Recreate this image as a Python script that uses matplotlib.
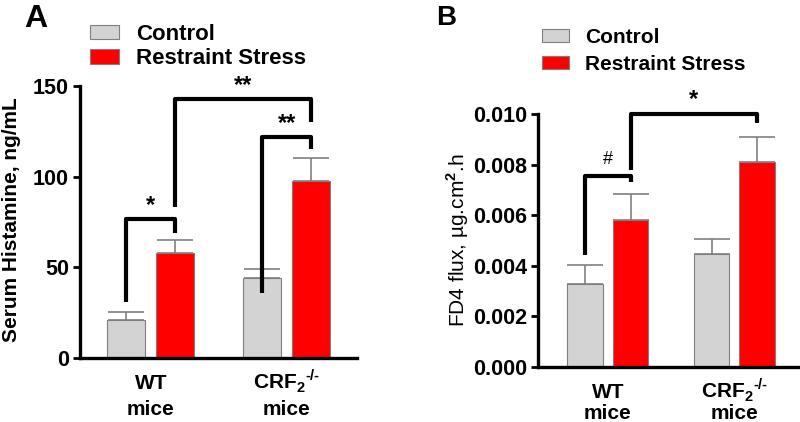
import numpy as np
import matplotlib
matplotlib.use('Agg')
import matplotlib.pyplot as plt

plt.rcParams['font.family'] = ['Liberation Sans', 'DejaVu Sans']
plt.rcParams['font.weight'] = 'bold'
plt.rcParams['mathtext.fontset'] = 'custom'
plt.rcParams['mathtext.rm'] = 'Liberation Sans'
plt.rcParams['mathtext.bf'] = 'Liberation Sans:bold'

# data
group_top = ['WT', 'CRF$_\\mathbf{2}$$^{\\text{-/-}}$']
group_bottom = ['mice', 'mice']
series = ['Control', 'Restraint Stress']

hist_ctrl = [21, 44]
hist_ctrl_err = [4.5, 5]
hist_rs = [58, 97.5]
hist_rs_err = [7, 13]

fd4_ctrl = [0.00328, 0.00447]
fd4_ctrl_err = [0.00075, 0.00059]
fd4_rs = [0.00581, 0.0081]
fd4_rs_err = [0.00103, 0.0010]

# significance brackets: (bar left, bar right, left foot, top, right foot, label)
# bars numbered 0=WT ctrl, 1=WT RS, 2=CRF ctrl, 3=CRF RS
hist_sig = [(0, 1, 31, 76.5, 69, '*'),
            (1, 3, 83, 143, 130, '**'),
            (2, 3, 36, 122, 115, '**')]
fd4_sig = [(0, 1, 0.00443, 0.00755, 0.0073, '#'),
           (1, 3, 0.0078, 0.0100, 0.00964, '*')]

colors = ['#d3d3d3', '#ff0000']
off = 0.18
width = 0.28
PX = 0.72  # points per pixel at dpi 100


def panel(ax, ctrl, ctrl_err, rs, rs_err, sig, ylim, yticks, fmt, ylabel, ylab_weight, ylab_fs,
          tick_fs, star_y_off, base1, base2):
    x = np.arange(len(group_top))
    for vals, errs, dx, c, lab in [(ctrl, ctrl_err, -off, colors[0], series[0]),
                                   (rs, rs_err, off, colors[1], series[1])]:
        ax.bar(x + dx, vals, width, color=c, edgecolor='#7f7f7f', linewidth=0.8, label=lab, zorder=2)
        ax.errorbar(x + dx, vals, yerr=[np.zeros(len(vals)), errs], fmt='none',
                    ecolor='#808080', elinewidth=1.2, capsize=13, capthick=1.2, zorder=1)
    centers = [x[0] - off, x[0] + off, x[1] - off, x[1] + off]
    for i, j, yl, yt, yr, lab in sig:
        ax.plot([centers[i], centers[i], centers[j], centers[j]], [yl, yt, yt, yr],
                color='black', lw=3.0, solid_joinstyle='round', solid_capstyle='butt',
                clip_on=False, zorder=3)
        if lab == '#':
            ax.text((centers[i] + centers[j]) / 2, yt + star_y_off, lab, ha='center', va='bottom',
                    fontsize=13, fontweight='normal')
        else:
            ax.text((centers[i] + centers[j]) / 2, yt + star_y_off * 0.4, lab, ha='center', va='bottom',
                    fontsize=17, fontweight='bold')
    ax.set_ylim(*ylim)
    ax.set_yticks(yticks)
    ax.set_yticklabels([fmt.format(v) for v in yticks], fontsize=tick_fs, fontweight='bold')
    ax.set_xticks(x)
    ax.set_xticklabels([])
    ax.tick_params(axis='x', length=0)
    ax.tick_params(axis='y', length=5, width=2, pad=3)
    for k in range(len(x)):
        ax.annotate(group_top[k], xy=(x[k], 0), xycoords=('data', 'axes fraction'),
                    xytext=(0, -base1 * PX), textcoords='offset points',
                    ha='center', va='baseline', fontsize=15, fontweight='bold', annotation_clip=False)
        ax.annotate(group_bottom[k], xy=(x[k], 0), xycoords=('data', 'axes fraction'),
                    xytext=(0, -base2 * PX), textcoords='offset points',
                    ha='center', va='baseline', fontsize=15, fontweight='bold', annotation_clip=False)
    for s in ['top', 'right']:
        ax.spines[s].set_visible(False)
    for s in ['left', 'bottom']:
        ax.spines[s].set_linewidth(2.4)
    ax.set_ylabel(ylabel, fontsize=ylab_fs, fontweight=ylab_weight)


fig = plt.figure(figsize=(8, 4.22), dpi=100)

axA = fig.add_axes([0.1, 0.1517, 0.346, 0.6445])
panel(axA, hist_ctrl, hist_ctrl_err, hist_rs, hist_rs_err, hist_sig,
      (0, 150), [0, 50, 100, 150], '{:.0f}', 'Serum Histamine, ng/mL', 'bold', 15, 15.5, 3,
      31, 57)
axA.set_xlim(-0.522, 1.515)
axA.yaxis.set_label_coords(-0.213, 0.507)

axB = fig.add_axes([0.6725, 0.1303, 0.3275, 0.5995])
panel(axB, fd4_ctrl, fd4_ctrl_err, fd4_rs, fd4_rs_err, fd4_sig,
      (0, 0.010), [0, 0.002, 0.004, 0.006, 0.008, 0.010], '{:.3f}',
      'FD4 flux, µg.cm$^2$.h', 'normal', 15, 15.5, 0.0003, 31, 52)
axB.set_xlim(-0.552, 1.519)
axB.yaxis.set_label_coords(-0.255, 0.502)

axA.legend(loc='upper left', bbox_to_anchor=(90 / 800, 1 - 24 / 422), bbox_transform=fig.transFigure,
           frameon=False, fontsize=16, handlelength=1.32, handleheight=0.6, handletextpad=0.75,
           labelspacing=0.15, borderpad=0, borderaxespad=0)
axB.legend(loc='upper left', bbox_to_anchor=(542 / 800, 1 - 28 / 422), bbox_transform=fig.transFigure,
           frameon=False, fontsize=15, handlelength=1.3, handleheight=0.6, handletextpad=0.75,
           labelspacing=0.38, borderpad=0, borderaxespad=0)

fig.text(24 / 800, 1 - 27 / 422, 'A', fontsize=23, fontweight='bold', ha='left', va='baseline')
fig.text(436 / 800, 1 - 25 / 422, 'B', fontsize=20, fontweight='bold', ha='left', va='baseline')

fig.savefig('out.png', dpi=100)
